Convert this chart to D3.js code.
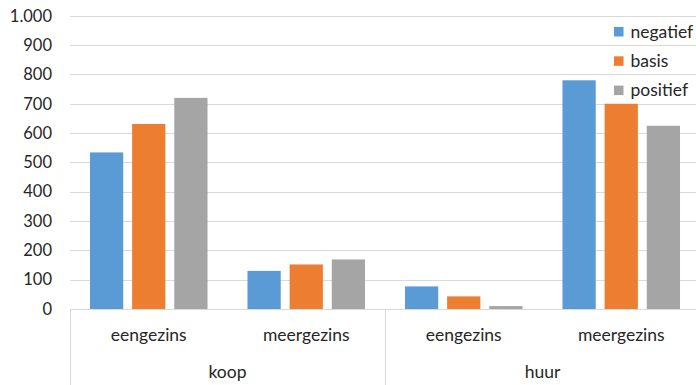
<!DOCTYPE html>
<html><head><meta charset="utf-8">
<script src="https://cdn.jsdelivr.net/npm/d3@7"></script>
<style>html,body{margin:0;padding:0;background:#fff;overflow:hidden}</style>
</head><body>
<svg id="c" width="696" height="385"></svg>
<script>
const groups = ["koop", "huur"];
const categories = ["eengezins", "meergezins", "eengezins", "meergezins"];
const categoryGroup = ["koop", "koop", "huur", "huur"];
const series = ["negatief", "basis", "positief"];
const negatief = [534, 130, 77, 780];
const basis = [631, 152, 43, 700];
const positief = [720, 169, 10, 625];
const yTicks = [0, 100, 200, 300, 400, 500, 600, 700, 800, 900, 1000];
const colors = ["#5B9BD5", "#ED7D31", "#A5A5A5"];

const values = [negatief, basis, positief];
const svg = d3.select("#c");
const font = "Lato, 'Open Sans', sans-serif";
const textColor = "#262626";
const gridColor = "#d9d9d9";
const plotLeft = 70, plotRight = 700, plotTop = 15.8, plotBottom = 309;

const idx = categories.map((_, i) => i);
const x0 = d3.scaleBand().domain(idx).range([plotLeft, plotRight]).padding(0);
const x1 = d3.scaleBand().domain(series).range([0, x0.bandwidth()]).paddingInner(0.211).paddingOuter(0.474);
const y = d3.scaleLinear().domain([0, 1000]).range([plotBottom, plotTop]);

// gridlines
svg.append("g").selectAll("line").data(yTicks.filter(t => t > 0)).join("line")
  .attr("x1", plotLeft).attr("x2", plotRight)
  .attr("y1", d => Math.round(y(d)) + 0.5).attr("y2", d => Math.round(y(d)) + 0.5)
  .attr("stroke", gridColor).attr("stroke-width", 1);

// y axis labels
const fmt = d => d3.format(",")(d).replace(/,/g, ".");
svg.append("g").selectAll("text").data(yTicks).join("text")
  .attr("x", 52).attr("y", d => y(d)).attr("dy", "0.35em")
  .attr("text-anchor", "end").attr("font-family", font).attr("font-size", 16.5)
  .attr("fill", textColor).text(fmt);

// bars
series.forEach((s, si) => {
  svg.append("g").selectAll("rect").data(values[si]).join("rect")
    .attr("x", (d, i) => x0(i) + x1(s))
    .attr("width", x1.bandwidth())
    .attr("y", d => y(d))
    .attr("height", d => y(0) - y(d))
    .attr("fill", colors[si]);
});

// category axis
const ax = svg.append("g");
ax.append("line").attr("x1", plotLeft).attr("x2", plotRight).attr("y1", Math.round(y(0)) + 0.5).attr("y2", Math.round(y(0)) + 0.5)
  .attr("stroke", gridColor);
const groupBounds = groups.map(g => {
  const is = idx.filter(i => categoryGroup[i] === g);
  return [x0(is[0]), x0(is[is.length - 1]) + x0.bandwidth()];
});
const seps = [plotLeft].concat(groupBounds.map(b => b[1]));
ax.selectAll("line.sep").data(seps).join("line").attr("class", "sep")
  .attr("x1", d => Math.round(d) + 0.5).attr("x2", d => Math.round(d) + 0.5)
  .attr("y1", y(0)).attr("y2", 385).attr("stroke", gridColor);

ax.selectAll("text.cat").data(categories).join("text").attr("class", "cat")
  .attr("x", (d, i) => x0(i) + x0.bandwidth() / 2).attr("y", 335).attr("dy", "0.35em")
  .attr("text-anchor", "middle").attr("font-family", font).attr("font-size", 17.5)
  .attr("fill", textColor).text(d => d);

ax.selectAll("text.grp").data(groups).join("text").attr("class", "grp")
  .attr("x", (d, i) => (groupBounds[i][0] + groupBounds[i][1]) / 2).attr("y", 371.5).attr("dy", "0.35em")
  .attr("text-anchor", "middle").attr("font-family", font).attr("font-size", 17.5)
  .attr("fill", textColor).text(d => d);

// legend
const lg = svg.append("g");
series.forEach((s, i) => {
  const cy = 31.5 + i * 29.3;
  lg.append("rect").attr("x", 614).attr("y", cy - 4.5).attr("width", 9.5).attr("height", 9.5).attr("fill", colors[i]);
  lg.append("text").attr("x", 630.5).attr("y", cy).attr("dy", "0.35em")
    .attr("font-family", font).attr("font-size", 17.5).attr("fill", textColor).text(s);
});
</script>
</body></html>
